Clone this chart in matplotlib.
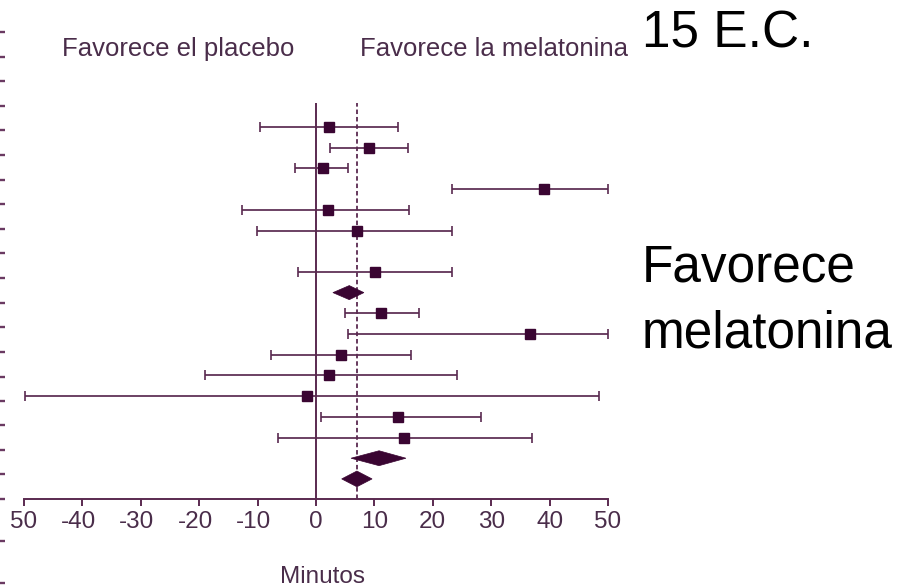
import matplotlib
matplotlib.use("Agg")
import matplotlib.pyplot as plt
from matplotlib.transforms import ScaledTranslation

# ---- data ----
study_rows = [0, 1, 2, 3, 4, 5, 7, 9, 10, 11, 12, 13, 14, 15]
study_est = [2.2, 9.1, 1.2, 39.1, 2.0, 7.0, 10.1, 11.1, 36.7, 4.3, 2.2, -1.6, 14.0, 15.1]
study_lo = [-9.6, 2.4, -3.6, 23.3, -12.7, -10.1, -3.1, 5.0, 5.5, -7.7, -19.0, -49.9, 0.8, -6.5]
study_hi = [14.1, 15.7, 5.5, 50.0, 16.0, 23.3, 23.3, 17.7, 50.0, 16.3, 24.2, 48.5, 28.3, 37.0]

pooled_rows = [8, 16, 17]
pooled_est = [5.7, 10.8, 7.0]
pooled_lo = [2.9, 6.0, 4.4]
pooled_hi = [8.2, 15.4, 9.6]
pooled_halfh = [0.34, 0.36, 0.38]

overall_effect = 7.0

x_ticks = [-50, -40, -30, -20, -10, 0, 10, 20, 30, 40, 50]
x_ticklabels = ["50", "-40", "-30", "-20", "-10", "0", "10", "20", "30", "40", "50"]
x_label = "Minutos"
left_label = "Favorece el placebo"
right_label = "Favorece la melatonina"
side_title = "15 E.C."
side_note_1 = "Favorece"
side_note_2 = "melatonina"

# decorative ticks at the left edge (pixel rows of the cropped neighbouring axis)
edge_ticks_px = [32, 56.6, 81, 106, 130, 155, 180, 204, 229, 253, 278, 303, 327,
                 352, 377, 401, 425, 450, 474, 499, 541, 583]

# ---- style ----
W, H = 914, 587
DPI = 100
line_c = "#5a2a50"
mark_c = "#3a0532"
text_c = "#4a2d4a"
plt.rcParams['font.family'] = ['Liberation Sans', 'DejaVu Sans']

fig = plt.figure(figsize=(W / DPI, H / DPI), dpi=DPI)

def fx(px):
    return px / W

def fy(py):
    return 1 - py / H

# main axes: x from -50 (px 24) to 50 (px 608); top at px 103, bottom spine at px 499
ax = fig.add_axes([fx(24), fy(499), fx(608) - fx(24), fy(103) - fy(499)])
ax.set_xlim(-50, 50)
ax.set_ylim(17.97, -1.16)

ax.axvline(0, color=line_c, lw=1.4, zorder=1)
ax.axvline(overall_effect, color=line_c, lw=1.3, ls=(0, (2.5, 1.6)), zorder=1)

for r, e, lo, hi in zip(study_rows, study_est, study_lo, study_hi):
    ax.errorbar([e], [r], xerr=[[e - lo], [hi - e]], fmt='s', color=line_c,
                ecolor=line_c, elinewidth=1.25, capsize=3.6, capthick=1.2,
                markersize=6.6, markerfacecolor=mark_c, markeredgecolor=mark_c,
                zorder=3, clip_on=False)

for r, e, lo, hi, hh in zip(pooled_rows, pooled_est, pooled_lo, pooled_hi, pooled_halfh):
    ax.fill([lo, e, hi, e], [r, r - hh, r, r + hh], color=mark_c, lw=0.5,
            edgecolor=mark_c, zorder=3)

for s in ["top", "right", "left"]:
    ax.spines[s].set_visible(False)
ax.spines["bottom"].set_color(line_c)
ax.spines["bottom"].set_linewidth(1.4)
ax.set_yticks([])
ax.set_xticks(x_ticks)
ax.set_xticklabels(x_ticklabels)
ax.tick_params(axis='x', direction='out', length=5, width=1.4, color=line_c,
               labelsize=17.5, labelcolor=text_c, pad=4)
for lab, v in zip(ax.get_xticklabels(), x_ticks):
    if v < 0 and lab.get_text().startswith("-"):
        lab.set_transform(lab.get_transform() + ScaledTranslation(-4 / DPI, 0, fig.dpi_scale_trans))

fig.text(fx(322), fy(583), x_label, ha='center', va='baseline', fontsize=17.5, color=text_c)
fig.text(fx(178), fy(56), left_label, ha='center', va='baseline', fontsize=18.5, color=text_c)
fig.text(fx(360), fy(56), right_label, ha='left', va='baseline', fontsize=18.5, color=text_c)

fig.text(fx(642), fy(48), side_title, ha='left', va='baseline', fontsize=37, color='black')
fig.text(fx(642), fy(281), side_note_1, ha='left', va='baseline', fontsize=37, color='black')
fig.text(fx(642), fy(347), side_note_2, ha='left', va='baseline', fontsize=37, color='black')

# decorative left-edge ticks
axl = fig.add_axes([fx(4.5), 0, 0.001, 1])
axl.set_ylim(H, 0)
axl.set_xlim(0, 1)
for s in axl.spines.values():
    s.set_visible(False)
axl.set_xticks([])
axl.set_yticks(edge_ticks_px)
axl.set_yticklabels([])
axl.tick_params(axis='y', direction='out', length=4.5, width=1.7, color="#6a3a62")
axl.patch.set_alpha(0)

fig.savefig("out.png", dpi=DPI)
